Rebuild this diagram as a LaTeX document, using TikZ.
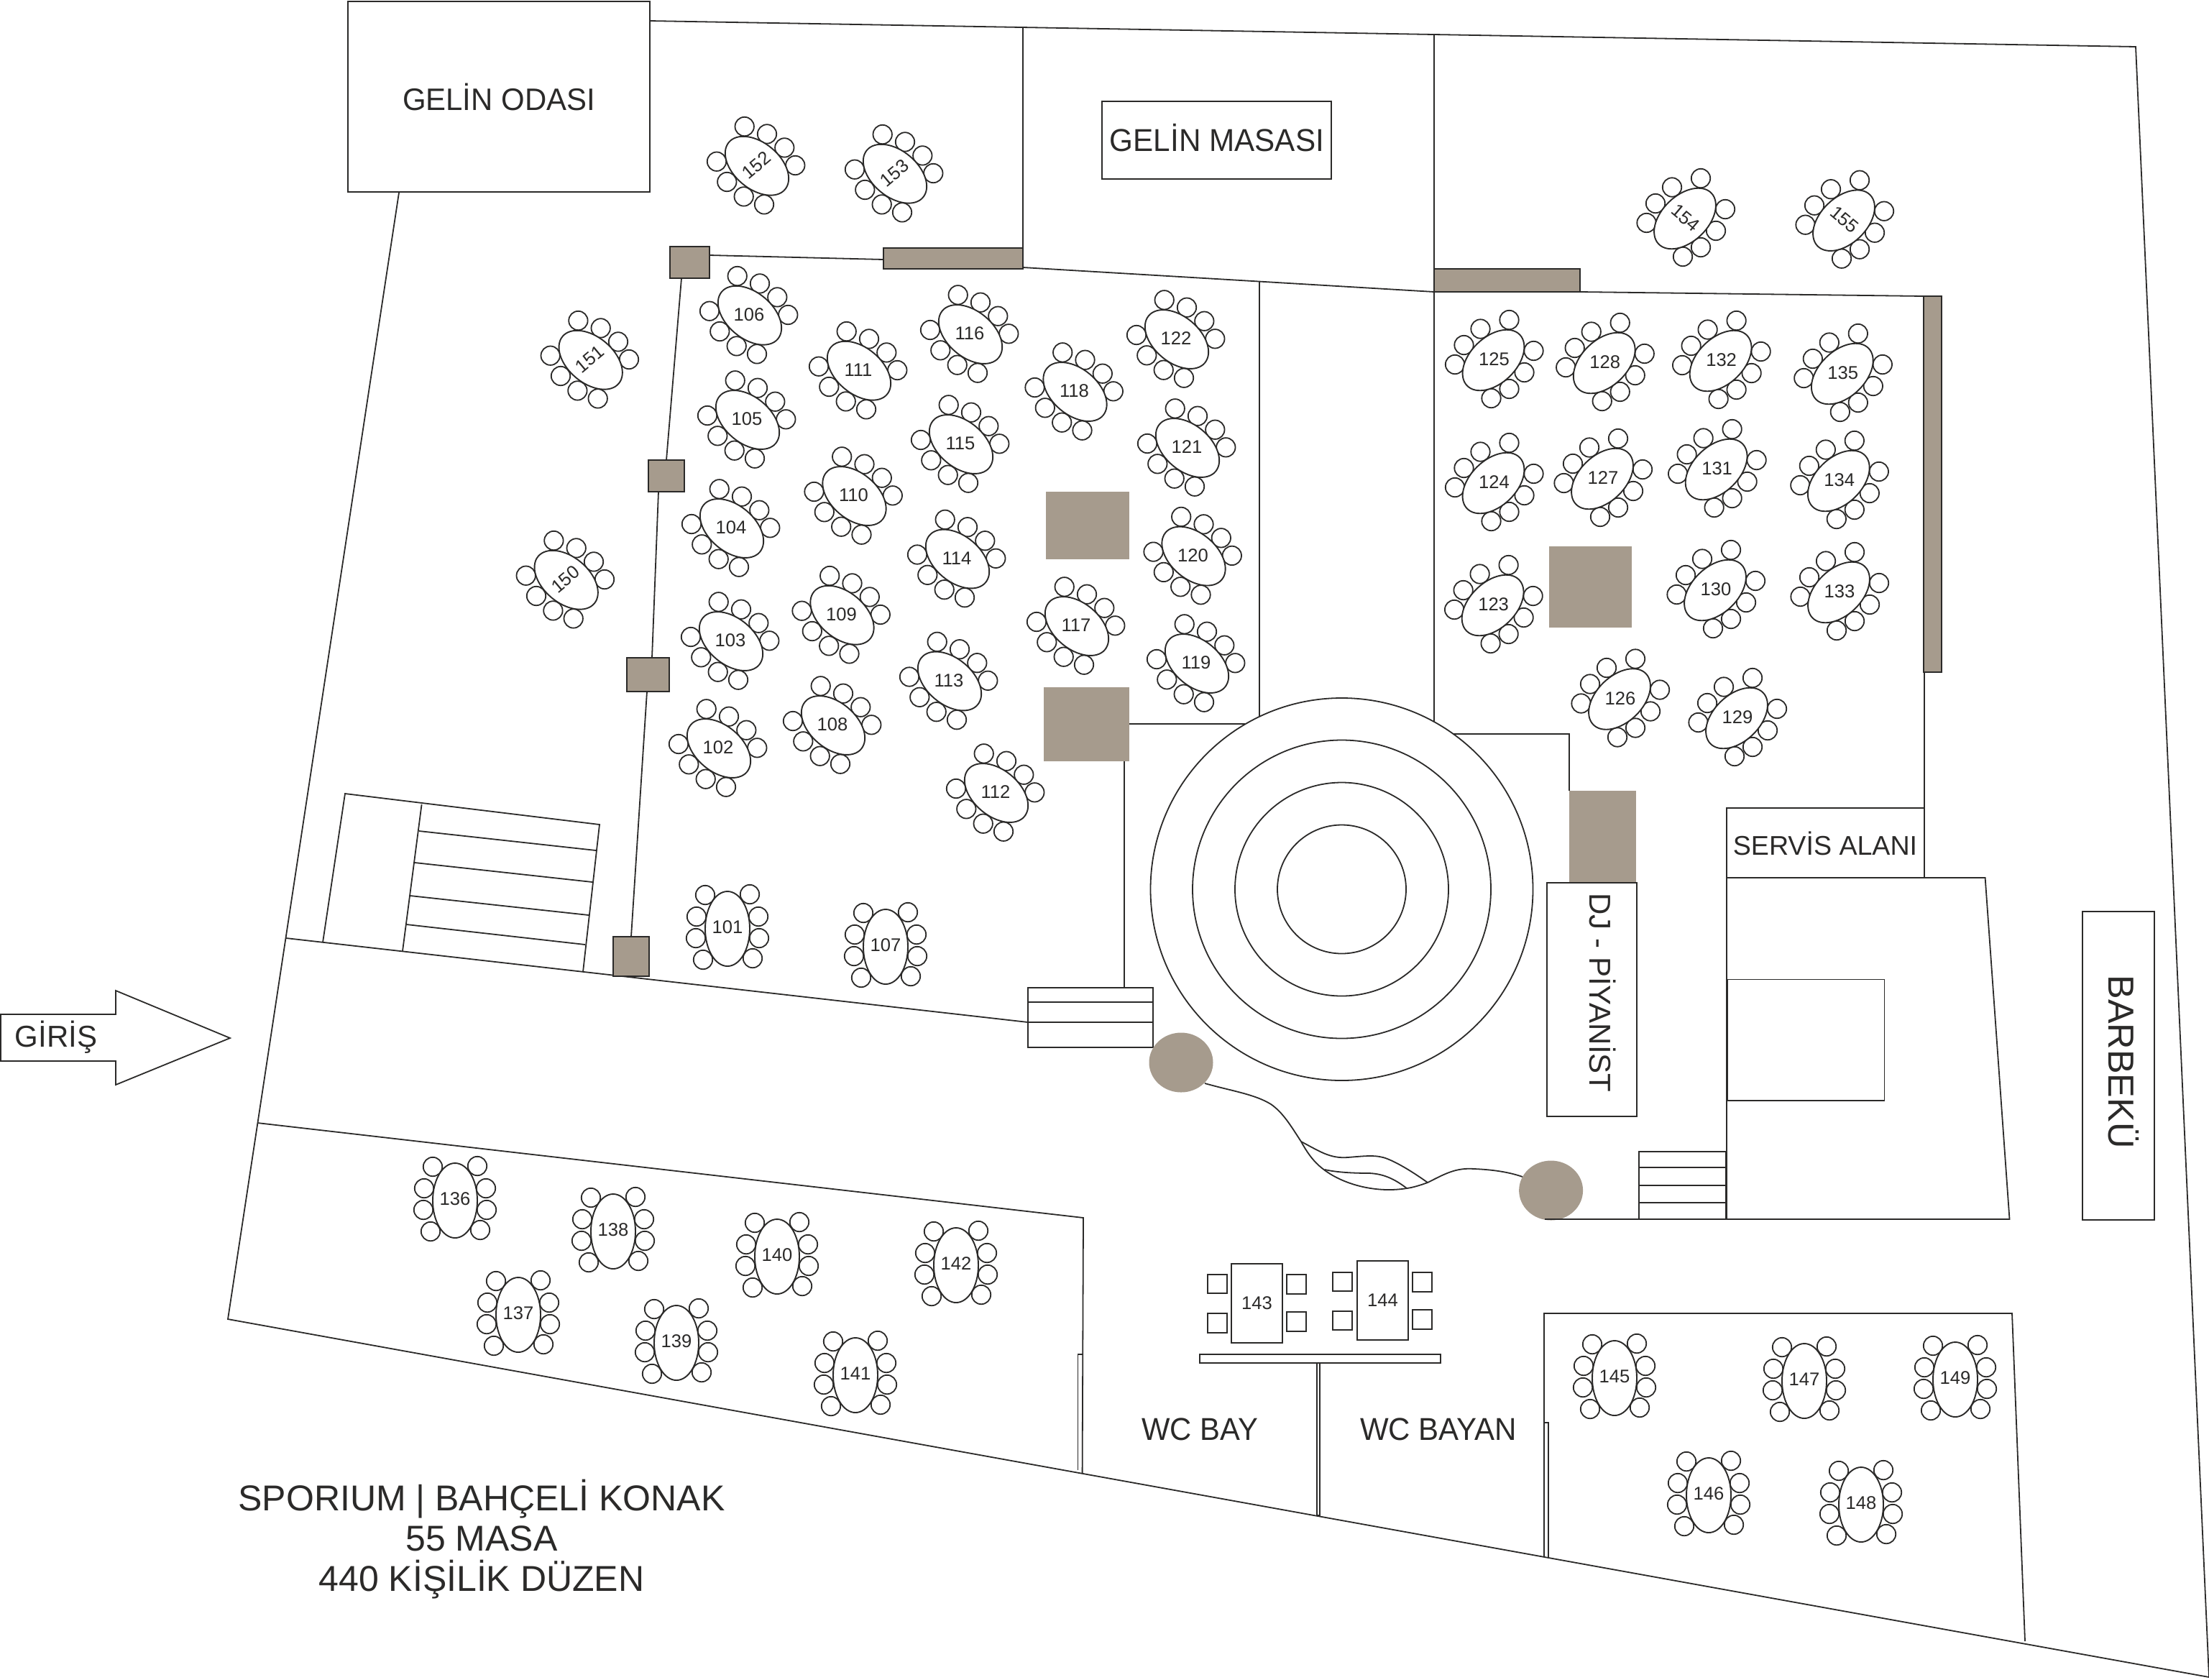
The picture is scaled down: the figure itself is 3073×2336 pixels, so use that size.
\documentclass[tikz,border=0pt]{standalone}
\usepackage{fontspec}
\usepackage{graphicx}
\setmainfont{Liberation Sans}
\definecolor{ink}{HTML}{2B2A29}
\definecolor{taupe}{HTML}{A69B8D}
\tikzset{
  wall/.style={draw=ink,line width=0.9pt,line join=miter},
  bold/.style={draw=ink,line width=1pt,line join=miter},
  solidblock/.style={fill=taupe,draw=none},
  framedblock/.style={fill=taupe,draw=ink,line width=1pt},
  seat/.style={draw=ink,line width=0.9pt,fill=white},
  top/.style={draw=ink,line width=0.95pt,fill=white},
  num/.style={text=ink,inner sep=0pt,font=\fontsize{12.8}{14}\selectfont},
  lbl/.style={text=ink,inner sep=0pt}
}
\newcommand{\tblR}[4][0]{%
  \begin{scope}[shift={(#2,-#3)}]
    \foreach \dx/\dy in {-17.3/54.7,14/44.3,38.3/25.3,53.3/0.7,-56/6,-41.7/-22.3,-18.3/-42.7,10/-53.7}
      \draw[seat] (\dx,\dy) circle[radius=13.2];
    \draw[top,rotate=-40] (0,0) ellipse[x radius=51,y radius=32];
    \node[num,rotate=#1] (t#4) at (-1,1) {#4};
  \end{scope}}
\newcommand{\tblL}[4][0]{%
  \begin{scope}[shift={(#2,-#3)}]
    \foreach \dx/\dy in {22/56,-18/43.5,-41/21,-53.5/-6,56/13,43/-17,22/-40,-3/-53}
      \draw[seat] (\dx,\dy) circle[radius=13.2];
    \draw[top,rotate=44] (0,0) ellipse[x radius=51,y radius=32];
    \node[num,rotate=#1] (t#4) at (1,1) {#4};
  \end{scope}}
\newcommand{\tblV}[3]{%
  \begin{scope}[shift={(#1,-#2)}]
    \foreach \dx/\dy in {-31/47,31/48,-43/17,43/17,-44/-13,44/-13,-34/-43,35/-41}
      \draw[seat] (\dx,\dy) circle[radius=13.2];
    \draw[top] (0,0) ellipse[x radius=31,y radius=52];
    \node[num] (t#3) at (0,2) {#3};
  \end{scope}}
\newcommand{\boxat}[5][wall]{\draw[#1] (#2,-#3) rectangle (#4,-#5);}
\begin{document}
\begin{tikzpicture}[x=0.5pt,y=0.5pt]
\useasboundingbox (0,0) rectangle (3073,-2336);

% outer outline
\draw[wall] (904,-29) -- (2971,-65) -- (3073,-2333) -- (317,-1835) -- (555,-268);
\draw[wall] (398,-1305) -- (1430,-1422);
\draw[wall] (358,-1562) -- (1507,-1694) -- (1505.6,-2049);
\draw[wall] (1499.5,-2045) -- (1499.5,-1884) -- (1505.6,-1884);

% inner walls
\draw[wall] (1423,-38) -- (1423,-372) -- (1995,-406);
\draw[wall] (1995,-48) -- (1995,-1004);
\draw[wall] (1752,-392) -- (1752,-996);
\draw[wall] (987,-355) -- (1229,-361);
\draw[wall] (2198,-406) -- (2676,-412);
\draw[wall] (2677,-412) -- (2677,-1221);
\draw[wall] (1571,-1007) -- (1732,-1007);
\draw[wall] (1564,-1058) -- (1564,-1374);
\draw[wall] (2021,-1021) -- (2183,-1021) -- (2183,-1100);
\draw[wall] (948,-387) -- (927,-640);
\draw[wall] (916,-684) -- (907,-915);
\draw[wall] (900,-962) -- (878,-1303);

% terrace steps
\draw[wall] (449,-1311) -- (480,-1104) -- (834,-1147) -- (811,-1352);
\draw[wall] (586.6,-1119) -- (560,-1323);
\draw[wall] (583,-1156) -- (829,-1183);
\draw[wall] (577,-1200) -- (824,-1227);
\draw[wall] (570.5,-1246) -- (819,-1273);
\draw[wall] (565.5,-1286) -- (814,-1314);

% dance floor rings
\foreach \r in {266,207.5,148.5,89.5}
  \draw[wall] (1866.5,-1237) circle[radius=\r];

% stairs by the floor
\boxat[bold]{1430}{1374}{1604}{1457}
\draw[bold] (1430,-1394) -- (1604,-1394);
\draw[bold] (1430,-1422) -- (1604,-1422);

% taupe blocks
\fill[taupe] (1455,-684) rectangle (1571,-777.5);
\fill[taupe] (1452,-956) rectangle (1571,-1058.6);
\fill[taupe] (2154.6,-760) rectangle (2269.7,-872.5);
\fill[taupe] (2183,-1100) rectangle (2276,-1228);
\draw[framedblock] (932,-343) rectangle (987,-387);
\draw[framedblock] (902,-640) rectangle (952,-684);
\draw[framedblock] (872,-915) rectangle (931,-962);
\draw[framedblock] (853,-1303) rectangle (903,-1358);
\draw[framedblock] (1229,-345) rectangle (1423,-374);
\draw[framedblock] (1995,-374) rectangle (2198,-406);
\draw[framedblock] (2676,-412) rectangle (2701,-935);

% planters and path
\draw[wall] (1676,-1507) .. controls (1715,-1518) and (1745,-1522) .. (1768,-1536)
  .. controls (1785,-1548) and (1795,-1565) .. (1810,-1588)
  .. controls (1822,-1610) and (1832,-1620) .. (1843,-1628)
  .. controls (1870,-1648) and (1915,-1660) .. (1957,-1653)
  .. controls (1965,-1652) and (1975,-1649) .. (1986,-1645)
  .. controls (2010,-1633) and (2025,-1624) .. (2051,-1626)
  .. controls (2075,-1627) and (2098,-1630) .. (2118,-1637);
\draw[wall] (1810,-1588) .. controls (1835,-1601) and (1850,-1612) .. (1875,-1610)
  .. controls (1900,-1608) and (1915,-1606) .. (1930,-1612)
  .. controls (1945,-1618) and (1965,-1630) .. (1986,-1645);
\draw[wall] (1843,-1627) .. controls (1860,-1631) and (1885,-1632) .. (1905,-1632)
  .. controls (1925,-1633) and (1940,-1640) .. (1957,-1653);
\fill[taupe] (1643,-1478) ellipse[x radius=44.5,y radius=41.5];
\fill[taupe] (2157.6,-1656) ellipse[x radius=44.5,y radius=41.5];

% labelled boxes
\boxat{484}{2}{904}{267}
\node[lbl,font=\fontsize{21.6}{24}\selectfont] (gelinodasi) at (694,-135) {\scalebox{0.97}[1]{GELİN ODASI}};
\boxat{1533}{141}{1852}{249}
\node[lbl,font=\fontsize{22}{24}\selectfont] (gelinmasasi) at (1693,-192) {\scalebox{0.96}[1]{GELİN MASASI}};
\boxat{2152}{1228}{2277}{1553}
\node[lbl,rotate=-90,font=\fontsize{21}{24}\selectfont] (dj) at (2229.5,-1381) {DJ - PİYANİST};
\boxat{2402}{1124}{2677}{1221}
\node[lbl,font=\fontsize{18.8}{22}\selectfont] (servis) at (2539,-1173) {SERVİS ALANI};
\boxat{2897}{1268}{2997}{1697}
\node[lbl,rotate=-90,font=\fontsize{25.2}{28}\selectfont] (barbeku) at (2954,-1477) {BARBEKÜ};

% service block
\draw[wall] (2402,-1221) -- (2761.6,-1221) -- (2795.5,-1696) -- (2149,-1696);
\draw[wall] (2402,-1221) -- (2402,-1696);
\boxat{2402.7}{1362.5}{2621.4}{1531}
\boxat{2280}{1602}{2401}{1696}
\draw[wall] (2280,-1623.7) -- (2401,-1623.7);
\draw[wall] (2280,-1649) -- (2401,-1649);
\draw[wall] (2280,-1673) -- (2401,-1673);

% entrance arrow
\draw[wall] (1,-1411) -- (161,-1411) -- (161,-1378) -- (320,-1444) -- (161,-1509) -- (161,-1476) -- (1,-1476) -- cycle;
\node[lbl,font=\fontsize{21}{24}\selectfont] (giris) at (78,-1443) {GİRİŞ};

% lower right garden
\draw[wall] (2154,-2166) -- (2154,-1979) -- (2148,-1979);
\draw[wall] (2148,-2165) -- (2148,-1827) -- (2799,-1827) -- (2817,-2283);

% toilets
\boxat{1669}{1884}{2004}{1896}
\boxat{1832}{1896}{1836}{2108}
\node[lbl,font=\fontsize{22}{24}\selectfont] (wcbay) at (1669,-1988) {\scalebox{0.95}[1]{WC BAY}};
\node[lbl,font=\fontsize{22}{24}\selectfont] (wcbayan) at (2001,-1988) {\scalebox{0.955}[1]{WC BAYAN}};

% rectangular tables
\boxat{1680}{1773}{1707}{1799}
\boxat{1680}{1827}{1707}{1854}
\boxat{1790}{1773}{1817}{1800}
\boxat{1790}{1825}{1817}{1852}
\boxat{1854}{1770}{1881}{1796}
\boxat{1854}{1824}{1881}{1850}
\boxat{1965}{1770}{1992}{1797}
\boxat{1965}{1822}{1992}{1849}
\boxat{1713}{1758}{1784}{1868}
\node[num] (t143) at (1748.5,-1813) {143};
\boxat{1888}{1754}{1959}{1864}
\node[num] (t144) at (1923.5,-1809) {144};

% round tables, long axis falling to the right
\tblR{1000}{1041}{102}
\tblR{1017}{892}{103}
\tblR{1018}{735}{104}
\tblR{1040}{584}{105}
\tblR{1043}{438.7}{106}
\tblR{1159}{1009}{108}
\tblR{1171.5}{855.7}{109}
\tblR{1188.5}{690}{110}
\tblR{1195}{515.7}{111}
\tblR{1386}{1103}{112}
\tblR{1321}{947.5}{113}
\tblR{1332}{777.5}{114}
\tblR{1337}{618}{115}
\tblR{1350}{465}{116}
\tblR{1498}{871}{117}
\tblR{1495.5}{545}{118}
\tblR{1665}{923}{119}
\tblR{1660.5}{773.6}{120}
\tblR{1652}{623}{121}
\tblR{1637}{472}{122}
\tblR[40]{787.7}{806.7}{150}
\tblR[40]{821.7}{500.7}{151}
\tblR[40]{1053}{230.7}{152}
\tblR[40]{1245}{241.7}{153}

% round tables, long axis rising to the right
\tblL{2076.6}{842}{123}
\tblL{2077.5}{672}{124}
\tblL{2077.5}{501}{125}
\tblL{2253}{972.5}{126}
\tblL{2229}{666}{127}
\tblL{2231.7}{505}{128}
\tblL{2416}{999}{129}
\tblL{2386}{821}{130}
\tblL{2387.6}{653}{131}
\tblL{2393.6}{502}{132}
\tblL{2558}{824}{133}
\tblL{2557.8}{669}{134}
\tblL{2562.8}{520}{135}
\tblL[-40]{2344}{304}{154}
\tblL[-40]{2565}{306.7}{155}

% upright round tables
\tblV{1012}{1292}{101}
\tblV{1232}{1317}{107}
\tblV{633}{1670}{136}
\tblV{721}{1829}{137}
\tblV{853}{1713}{138}
\tblV{941}{1868}{139}
\tblV{1081}{1748}{140}
\tblV{1190}{1913}{141}
\tblV{1330}{1760}{142}
\tblV{2246}{1917}{145}
\tblV{2377}{2080}{146}
\tblV{2510}{1921}{147}
\tblV{2589}{2093}{148}
\tblV{2720}{1919}{149}

% title
\node[lbl,font=\fontsize{25}{28}\selectfont,align=center] (title) at (670,-2141)
  {SPORIUM | BAHÇELİ KONAK\\55 MASA\\440 KİŞİLİK DÜZEN};
\end{tikzpicture}
\end{document}
